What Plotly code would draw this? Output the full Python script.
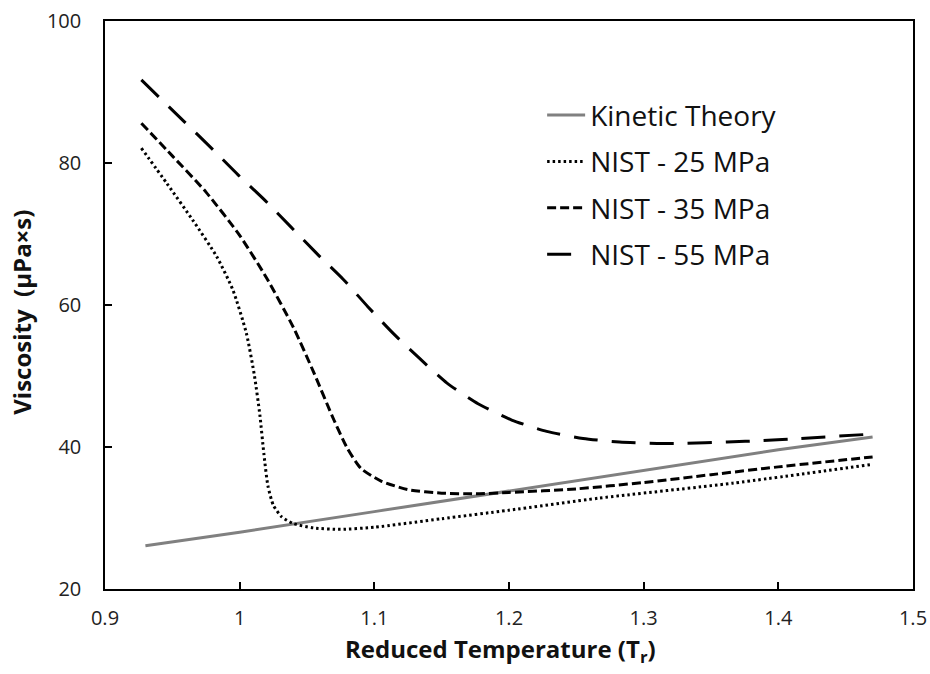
import plotly.graph_objects as go

# Kinetic theory
kt_x = [0.93, 1.00, 1.10, 1.20, 1.30, 1.40, 1.47]
kt_y = [26.1, 28.0, 30.9, 33.8, 36.7, 39.6, 41.4]

# NIST 25 MPa
n25_x = [0.927, 0.946, 0.965, 0.983, 0.995, 1.005, 1.011, 1.015, 1.018, 1.021,
         1.025, 1.031, 1.040, 1.055, 1.075, 1.10, 1.15, 1.20, 1.267, 1.366, 1.468]
n25_y = [82.1, 77.1, 72.0, 66.8, 62.1, 56.0, 50.0, 44.5, 39.0, 34.5,
         31.8, 30.2, 29.2, 28.6, 28.4, 28.7, 29.9, 31.1, 32.8, 34.9, 37.5]

# NIST 35 MPa
n35_x = [0.927, 0.950, 0.975, 1.000, 1.020, 1.040, 1.055, 1.070, 1.080, 1.090,
         1.105, 1.125, 1.150, 1.175, 1.200, 1.250, 1.300, 1.350, 1.400, 1.470]
n35_y = [85.6, 81.0, 75.9, 69.8, 63.8, 56.8, 50.5, 43.8, 39.8, 37.0,
         35.2, 34.0, 33.5, 33.4, 33.6, 34.1, 35.0, 36.1, 37.2, 38.6]

# NIST 55 MPa
n55_x = [0.927, 0.959, 0.979, 0.999, 1.019, 1.038, 1.057, 1.077, 1.095, 1.114,
         1.134, 1.154, 1.177, 1.202, 1.228, 1.255, 1.282, 1.310, 1.329, 1.362,
         1.389, 1.416, 1.468]
n55_y = [91.7, 85.8, 82.1, 78.3, 74.7, 71.0, 67.3, 63.6, 59.8, 56.0,
         52.4, 49.0, 46.1, 43.8, 42.2, 41.2, 40.7, 40.5, 40.5, 40.7,
         40.9, 41.2, 41.8]

x_ticks = [0.9, 1.0, 1.1, 1.2, 1.3, 1.4, 1.5]
x_tick_labels = ["0.9", "1", "1.1", "1.2", "1.3", "1.4", "1.5"]
y_ticks = [20, 40, 60, 80, 100]

FONT = "Open Sans"

fig = go.Figure()
fig.add_trace(go.Scatter(x=kt_x, y=kt_y, mode="lines", name="Kinetic Theory",
                         legendgroup="a",
                         line=dict(color="#808080", width=3)))
fig.add_trace(go.Scatter(x=n25_x, y=n25_y, mode="lines", name="NIST - 25 MPa",
                         legendgroup="b",
                         line=dict(color="black", width=3, dash="2.5px,3px",
                                   shape="spline", smoothing=0.6)))
fig.add_trace(go.Scatter(x=n35_x, y=n35_y, mode="lines", name="NIST - 35 MPa",
                         legendgroup="c",
                         line=dict(color="black", width=3, dash="9px,4px",
                                   shape="spline", smoothing=0.6)))
fig.add_trace(go.Scatter(x=n55_x, y=n55_y, mode="lines", name="NIST - 55 MPa",
                         legendgroup="d",
                         line=dict(color="black", width=3, dash="24px,14px",
                                   shape="spline", smoothing=0.6)))

fig.update_layout(
    width=930, height=674,
    margin=dict(l=105, r=17, t=21, b=85),
    paper_bgcolor="white", plot_bgcolor="white",
    font=dict(family=FONT, color="#222222"),
    showlegend=True,
    legend=dict(x=0.541, y=0.878, xanchor="left", yanchor="top",
                font=dict(size=28, family=FONT, color="#111111"),
                bgcolor="rgba(0,0,0,0)", tracegroupgap=7,
                itemwidth=38),
    xaxis=dict(range=[0.9, 1.5], tickvals=x_ticks, ticktext=x_tick_labels,
               showgrid=False, zeroline=False, automargin=False,
               showline=True, linecolor="black", linewidth=1.5, mirror=True,
               ticks="inside", ticklen=7, tickwidth=1.5, tickcolor="black",
               tickfont=dict(size=20, family=FONT, color="#222222"),
               ticklabelstandoff=10),
    yaxis=dict(range=[20, 100], tickvals=y_ticks,
               showgrid=False, zeroline=False, automargin=False,
               showline=True, linecolor="black", linewidth=1.5, mirror=True,
               ticks="inside", ticklen=7, tickwidth=1.5, tickcolor="black",
               tickfont=dict(size=20, family=FONT, color="#222222"),
               ticklabelstandoff=18),
    annotations=[
        dict(text="<b>Reduced Temperature (T<sub>r</sub>)</b>",
             xref="paper", yref="paper", x=0.489, y=-0.108,
             xanchor="center", yanchor="middle", showarrow=False,
             font=dict(size=24, family=FONT, color="#111111")),
        dict(text="<b>Viscosity\u00a0\u00a0(μPa×s)</b>",
             xref="paper", yref="paper", x=-0.103, y=0.4877,
             xanchor="center", yanchor="middle", showarrow=False,
             textangle=-90,
             font=dict(size=24, family=FONT, color="#111111")),
    ],
)

fig.write_html("out.html", config={"displayModeBar": False},
               post_script="document.body.style.margin='0';")
